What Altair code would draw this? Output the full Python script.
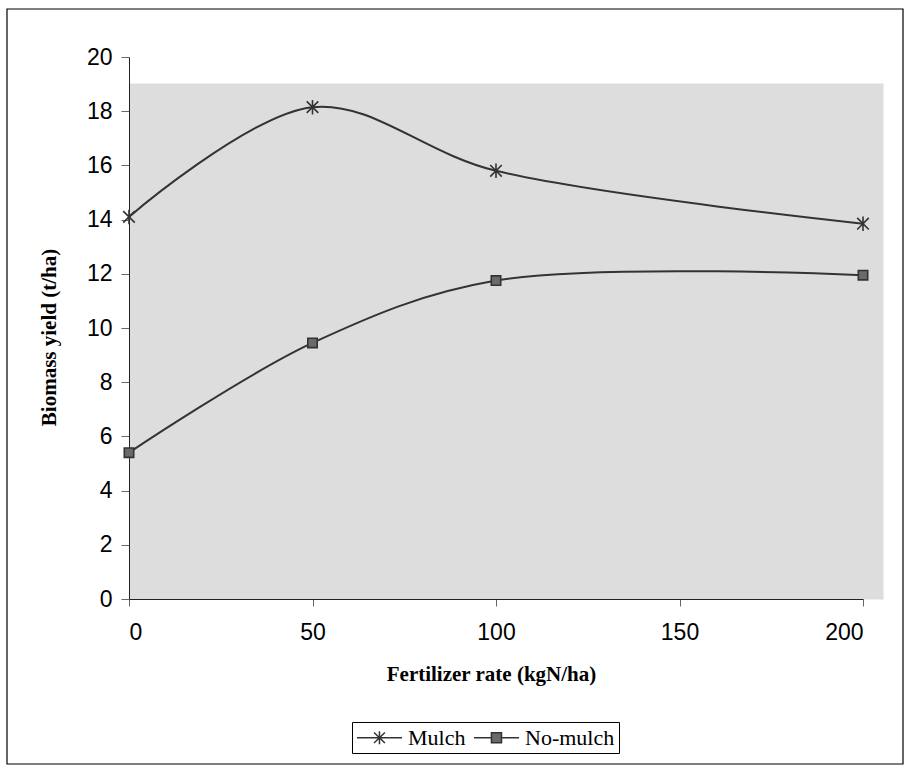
import altair as alt
import pandas as pd

# ---- data ----
fert = [0, 50, 100, 200]
mulch = [14.1, 18.15, 15.8, 13.85]
no_mulch = [5.4, 9.45, 11.75, 11.95]
series_names = ["Mulch", "No-mulch"]
x_ticks = [0, 50, 100, 150, 200]
y_ticks = [0, 2, 4, 6, 8, 10, 12, 14, 16, 18, 20]

rows = []
for f, m, n in zip(fert, mulch, no_mulch):
    rows.append({"fert": f, "yield": m, "series": "Mulch"})
    rows.append({"fert": f, "yield": n, "series": "No-mulch"})
df = pd.DataFrame(rows)

W, H = 754, 516
x_scale = alt.Scale(domain=[0, 200], range=[0, 734], nice=False, zero=False)
y_scale = alt.Scale(domain=[0, 20], range=[516, -26], nice=False, zero=False)

x_enc = alt.X("fert:Q", scale=x_scale,
              axis=alt.Axis(values=x_ticks, title="Fertilizer rate (kgN/ha)",
                            tickSize=7, labelPadding=15, titleX=362, titleY=75,
                            titleBaseline="middle", titleAlign="center"))
y_enc = alt.Y("yield:Q", scale=y_scale,
              axis=alt.Axis(values=y_ticks, title="Biomass yield (t/ha)",
                            tickSize=8, labelPadding=9, titleX=-80, titleY=254,
                            titleAngle=-90, titleBaseline="middle", titleAlign="center"))

# decorative outer frame
frame = alt.Chart(pd.DataFrame({"a": [0]})).mark_rect(
    filled=False, stroke="black", strokeWidth=1.2
).encode(x=alt.value(-122), x2=alt.value(774), y=alt.value(-74), y2=alt.value(681))

lines = alt.Chart(df).mark_line(
    interpolate="catmull-rom", color="#333333", strokeWidth=2
).encode(x=x_enc, y=y_enc, detail="series:N")

star = "M-0.8,-0.8L0.8,0.8M-0.8,0.8L0.8,-0.8M0,-1L0,1"
square = "M-0.65,-0.65H0.65V0.65H-0.65Z"
points = alt.Chart(df).mark_point(
    filled=True, fill="#6a6a6a", stroke="#333333", strokeWidth=1.6, opacity=1, size=210
).encode(
    x="fert:Q", y="yield:Q",
    shape=alt.Shape("series:N", scale=alt.Scale(domain=series_names, range=[star, square]),
                    legend=None),
)

# legend symbols: a 45px line with the marker in the middle (unit = 10.5 px)
leg_star = ("M-1,0L3.29,0"
            "M0.62,-0.5L1.66,0.5M0.62,0.5L1.66,-0.5M1.14,-0.62L1.14,0.62")
leg_square = "M-1,0L0.66,0M1.62,0L3.29,0M0.66,-0.48H1.62V0.48H0.66Z"
legend_layer = alt.Chart(df).transform_filter("false").mark_point(
    filled=True, fill="#6a6a6a", stroke="#333333", strokeWidth=1.5, opacity=1
).encode(
    x="fert:Q", y="yield:Q",
    shape=alt.Shape("series:N",
                    scale=alt.Scale(domain=series_names, range=[leg_star, leg_square]),
                    legend=alt.Legend(title=None, orient="none", legendX=223, legendY=639,
                                      direction="horizontal", symbolSize=441,
                                      symbolStrokeWidth=1.5, labelFont="Liberation Serif",
                                      labelFontSize=22, labelColor="black",
                                      strokeColor="black", padding=4, fillColor="white",
                                      columnPadding=5, labelOffset=29)),
)

chart = alt.layer(frame, lines, points, legend_layer).resolve_scale(
    shape="independent"
).properties(
    width=W, height=H,
    autosize=alt.AutoSizeParams(type="none"),
    padding={"left": 129, "top": 83, "right": 26, "bottom": 170},
    background="white",
).configure_view(
    stroke="transparent", fill="#dddddd"
).configure_axis(
    labelFont="Liberation Sans", labelFontSize=23, labelColor="black",
    titleFont="Liberation Serif", titleFontSize=21, titleFontWeight="bold", titleColor="black",
    domainColor="#222222", tickColor="#666666", grid=False,
)

chart.save("out.html", embed_options={"renderer": "svg", "actions": False})
